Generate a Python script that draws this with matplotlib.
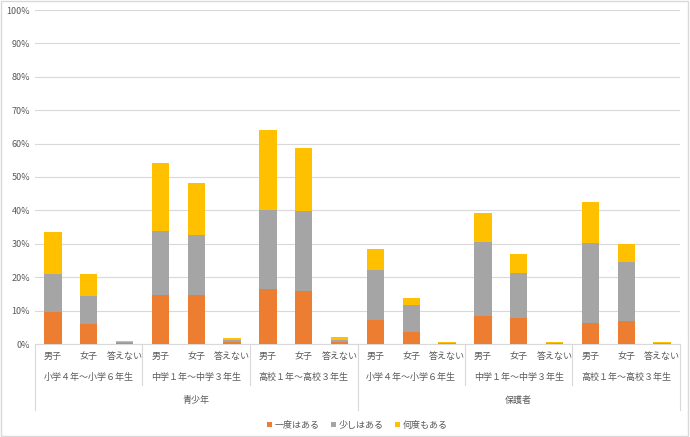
import matplotlib.pyplot as plt
import numpy as np
from matplotlib.ticker import PercentFormatter
from matplotlib.patches import Rectangle

plt.rcParams['font.family'] = ['Noto Sans CJK JP', 'DejaVu Sans']

sexes = ['男子', '女子', '答えない']
grades = ['小学４年～小学６年生', '中学１年～中学３年生', '高校１年～高校３年生']
groups = ['青少年', '保護者']
series_names = ['一度はある', '少しはある', '何度もある']
colors = ['#ED7D31', '#A5A5A5', '#FFC000']

once = [9.7, 6.1, 0.3, 14.7, 14.8, 0.6, 16.5, 16.0, 0.7,
        7.3, 3.5, 0.1, 8.3, 7.7, 0.1, 6.2, 6.8, 0.1]
little = [11.3, 8.2, 0.4, 19.1, 17.9, 0.7, 23.5, 23.8, 0.5,
          14.9, 8.1, 0.3, 22.1, 13.6, 0.3, 23.9, 17.9, 0.3]
many = [12.5, 6.7, 0.1, 20.5, 15.6, 0.4, 24.0, 18.9, 1.0,
        6.1, 2.1, 0.1, 8.7, 5.5, 0.1, 12.4, 5.1, 0.1]

fig = plt.figure(figsize=(6.9, 4.37), dpi=100)
fig.patches.append(Rectangle((0.002, 0.003), 0.995, 0.994, transform=fig.transFigure,
                             fill=False, edgecolor='#d9d9d9', linewidth=1))
ax = fig.add_axes([35 / 690, 1 - 344 / 437, 645 / 690, 334 / 437])

n = len(once)
x = np.arange(n)
bottom = np.zeros(n)
for vals, name, c in zip([once, little, many], series_names, colors):
    ax.bar(x, vals, 0.48, bottom=bottom, color=c, label=name, zorder=3)
    bottom += np.array(vals)

ax.set_xlim(-0.5, n - 0.5)
ax.set_ylim(0, 100)
ax.set_yticks(np.arange(0, 101, 10))
ax.yaxis.set_major_formatter(PercentFormatter(decimals=0))
ax.grid(axis='y', color='#d9d9d9', linewidth=0.8, zorder=0)
ax.tick_params(axis='y', length=0, labelsize=6.5, labelcolor='#595959')
ax.set_xticks([])
for s in ['top', 'right', 'left']:
    ax.spines[s].set_visible(False)
ax.spines['bottom'].set_color('#d9d9d9')

tr = ax.get_xaxis_transform()
fs = 6.5
tc = '#595959'
lc = '#d9d9d9'
for i in range(n):
    ax.text(i, -0.036, sexes[i % 3], transform=tr, ha='center', va='center',
            fontsize=fs, color=tc)
for g in range(6):
    ax.text(g * 3 + 1, -0.10, grades[g % 3], transform=tr, ha='center',
            va='center', fontsize=fs, color=tc)
for k in range(2):
    ax.text(k * 9 + 4, -0.168, groups[k], transform=tr, ha='center',
            va='center', fontsize=fs, color=tc)
for b in range(7):
    xb = b * 3 - 0.5
    depth = -0.198 if b % 3 == 0 else -0.123
    ax.plot([xb, xb], [0, depth], transform=tr, color=lc, lw=0.8, clip_on=False)

ax.legend(loc='upper center', bbox_to_anchor=(0.5, -0.205), ncol=3,
          frameon=False, fontsize=fs, handlelength=0.6, handleheight=0.6,
          columnspacing=1.2, handletextpad=0.3, labelcolor=tc)

fig.savefig('out.png', dpi=100)
